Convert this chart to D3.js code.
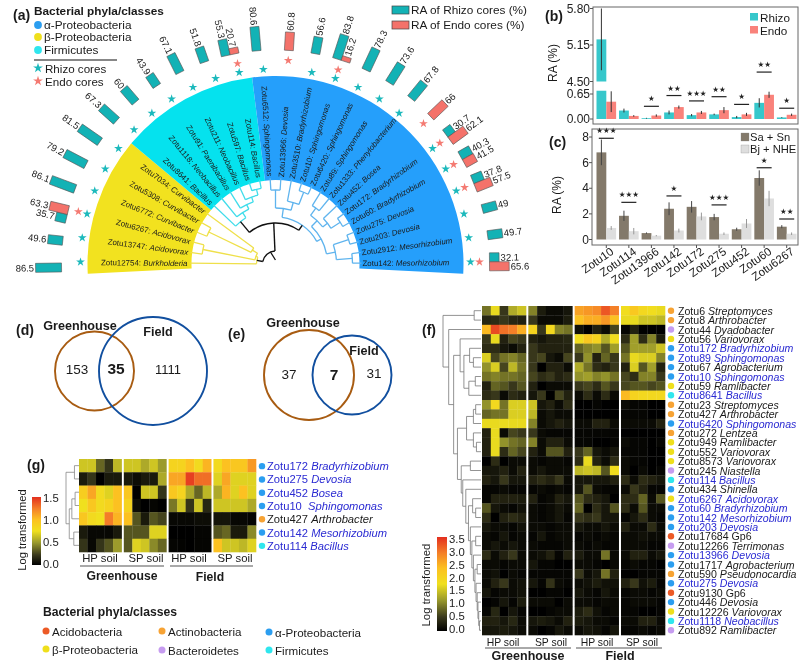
<!DOCTYPE html>
<html><head><meta charset="utf-8">
<script src="https://cdn.jsdelivr.net/npm/d3@7"></script>
<style>
html,body{margin:0;padding:0;background:#fff;}
svg{display:block;filter:blur(0.35px);}
text{font-family:"Liberation Sans",Arial,sans-serif;fill:#1a1a1a;}
</style></head><body><svg id="c" width="800" height="664"></svg>
<script>
// ---------- panel (a) data
const leafIds=["Zotu12754","Zotu13747","Zotu6267","Zotu6772","Zotu5308","Zotu7034","Zotu8641","Zotu1118","Zotu91","Zotu211","Zotu597","Zotu114","Zotu6512","Zotu13966","Zotu3510","Zotu10","Zotu6420","Zotu89","Zotu1333","Zotu452","Zotu172","Zotu60","Zotu275","Zotu203","Zotu2912","Zotu142"];
const leafGenus=["Burkholderia","Acidovorax","Acidovorax","Curvibacter","Curvibacter","Curvibacter","Bacillus","Neobacillus","Paenibacillus","Neobacillus","Bacillus","Bacillus","Sphingomonas","Devosia","Bradyrhizobium","Sphingomonas","Sphingomonas","Sphingomonas","Phenylobacterium","Bosea","Bradyrhizobium","Bradyrhizobium","Devosia","Devosia","Mesorhizobium","Mesorhizobium"];
const rhizoCores=[86.5,49.6,35.7,86.1,79.2,81.5,67.3,60,43.9,67.1,51.8,55.3,80.6,null,56.6,83.8,78.3,73.6,67.8,null,30.7,40.3,37.8,49,49.7,32.1];
const endoCores=[null,null,63.3,null,null,null,null,null,null,null,null,20.7,null,60.8,null,16.2,null,null,null,66,62.1,41.5,57.5,null,null,65.6];
const cladeSpans=[[0,6,"#f2e21f"],[6,12,"#05e2ee"],[12,26,"#259ffb"]];
const treeYellow=[19,0,[21,[74,1,2],[27,[74,3,4],5]]];
const treeCyan=[55,6,[61,7,[66,8,[71,9,[77,10,11]]]]];
const treeBlue=[47,[56,[74,12,13],[64,14,[77,15,16]]],[52,[60,[69,17,18],[66,19,[77,20,21]]],[61,[77,22,23],[77,24,25]]]];
const cladeColors=["#efe04a","#3fdcea","#5fb4ee"];
const rootRadii=[13,41];
// ---------- panels (b),(c) data
const barGroups=["Zotu10","Zotu114","Zotu13966","Zotu142","Zotu172","Zotu275","Zotu452","Zotu60","Zotu6267"];
const bRhizo=[5.25,.22,.02,.17,.10,.12,.05,.42,.04];
const bEndo=[.45,.08,.09,.31,.17,.23,.12,.63,.11];
const bRhizoErr=[.55,.05,.01,.05,.03,.02,.03,.12,.01];
const bEndoErr=[.27,.02,.03,.04,.04,.08,.04,.08,.03];
const bSig=["","","★","★★","★★★","★★","★","★★","★"];
const bSigLevel=[null,null,.33,.61,.47,.58,.38,1.22,.28];
const bTicksLow=[0,.65], bTicksHigh=[4.5,5.15,5.8];
const cSaSn=[6.8,1.85,.5,2.4,2.55,1.75,.8,4.8,1.0];
const cBjNhe=[.9,.65,.3,.7,1.8,.45,1.25,3.2,.45];
const cSaErr=[1.0,.4,.05,.5,.45,.25,.12,.6,.12];
const cBjErr=[.15,.25,.05,.15,.3,.1,.35,.6,.1];
const cSig=["★★★","★★★","","★","","★★★","","★","★★"];
const cSigLevel=[7.9,2.9,null,3.4,null,2.7,null,5.6,1.6];
const cTicks=[0,2,4,6,8];
// ---------- venn data
const vennD=["153","35","1111"], vennE=["37","7","31"];
// ---------- phyla
const phylaNames=["Acidobacteria","Actinobacteria","α-Proteobacteria","β-Proteobacteria","Bacteroidetes","Firmicutes"];
const phylaColors=["#ec5a26","#f7a334","#2b9ef0","#efdf1c","#c69cf0","#2fe6ee"];
// ---------- panel (g)
const gIds=["Zotu172","Zotu275","Zotu452","Zotu10","Zotu427","Zotu142","Zotu114"];
const gGenus=["Bradyrhizobium","Devosia","Bosea","Sphingomonas","Arthrobacter","Mesorhizobium","Bacillus"];
const gPhyla=[2,2,2,2,1,2,5];
const gBlue=[1,1,1,1,0,1,1];
const gValues=[
[.65,.65,.35,.2,.6, .65,.65,.55,.65,.5, .85,.85,1.0,.8,1.05, .8,1.0,.95,.95,1.15],
[.1,.2,0,.1,.1, .1,.05,.1,.1,.55, 1.1,1.1,1.45,1.3,1.3, .7,1.1,.7,.7,.7],
[.9,1.1,.8,.7,1.0, .95,0,.65,.65,.2, .95,.85,.55,.35,.6, .55,1.05,.7,1.0,.7],
[.75,.95,.8,.85,1.0, .85,.05,0,.02,0, .4,.65,.2,.65,.15, .65,.65,.65,.65,.55],
[.95,.8,.75,1.25,1.05, 1.0,.3,.1,.3,.25, .03,.03,.03,.05,.05, .08,.08,.03,.03,.02],
[.1,.03,.03,.03,.1, .3,.3,.3,.7,.7, 0,0,0,.02,.02, .3,.35,.1,.1,.45],
[.2,.03,.2,.3,.5, .3,.7,.65,.45,.35, .02,.01,0,.02,.02, 1.0,.65,.65,.6,.7]];
const gTree=[1,[.35,0,1],[.75,[.55,[.3,2,3],4],[.4,5,6]]];
const gTicks=[0,.5,1,1.5];
// ---------- panel (f)
const fIds=["Zotu6","Zotu8","Zotu44","Zotu56","Zotu172","Zotu89","Zotu67","Zotu10","Zotu59","Zotu8641","Zotu23","Zotu427","Zotu6420","Zotu272","Zotu949","Zotu552","Zotu8573","Zotu245","Zotu114","Zotu434","Zotu6267","Zotu60","Zotu142","Zotu203","Zotu17684","Zotu12266","Zotu13966","Zotu1717","Zotu590","Zotu275","Zotu9130","Zotu446","Zotu12226","Zotu1118","Zotu892"];
const fGenus=["Streptomyces","Arthrobacter","Dyadobacter","Variovorax","Bradyrhizobium","Sphingomonas","Agrobacterium","Sphingomonas","Ramlibacter","Bacillus","Streptomyces","Arthrobacter","Sphingomonas","Lentzea","Ramlibacter","Variovorax","Variovorax","Niastella","Bacillus","Shinella","Acidovorax","Bradyrhizobium","Mesorhizobium","Devosia","Gp6","Terrimonas","Devosia","Agrobacterium","Pseudonocardia","Devosia","Gp6","Devosia","Variovorax","Neobacillus","Ramlibacter"];
const fPhyla=[1,1,4,3,2,2,2,2,3,5,1,1,2,1,3,3,3,4,5,2,3,2,2,2,0,4,2,2,1,2,0,2,3,5,4];
const fBlue=[0,0,0,0,1,1,0,1,0,1,0,0,1,0,0,0,0,0,1,0,1,1,1,1,0,0,1,0,0,1,0,0,0,1,0];
const fValues=[
[.9,1.7,.5,1.3,1.5, 1.0,.25,.1,.1,.2, 2.6,2.7,2.8,3.2,2.9, 1.8,2.2,1.9,1.8,1.7],
[.35,.4,.5,.35,.3, .5,.1,.1,.1,.25, 2.3,2.5,2.5,2.7,2.3, 1.7,1.7,1.5,1.5,1.4],
[2.4,3.3,3.0,2.9,2.5, 2.0,.5,1.9,1,.9, .15,0,.3,.1,.6, .05,.3,0,0,0],
[.5,1.7,.3,.6,.5, .3,.2,.3,.3,.35, 1.8,2.2,2.0,1.3,1.8, .4,1.2,.4,1,.25],
[.4,.4,.2,.1,.3, .5,.3,.3,.3,.3, .8,1.0,1.1,.7,1.2, .7,1.2,1.2,1.2,1.5],
[1.6,.6,.9,1.0,.8, .5,.6,.2,.1,.6, .5,1.1,.3,.8,.5, .9,1.7,1.6,1.6,1.0],
[1.1,1.6,.6,1.4,.9, .5,0,.3,.3,.1, 1.3,.9,.4,.3,.5, .3,1.6,.7,1.2,.3],
[.9,1.0,.9,.9,.8, .6,.4,.5,.3,.4, 1.1,1.2,1.0,1.1,.9, .6,.4,1.0,1.0,.5],
[.3,.8,.7,.5,.7, .3,0,.1,.1,.1, .5,.6,.4,.7,.5, .6,.7,.7,.6,.7],
[.4,.5,.1,.4,.3, .2,.5,0,.6,.3, .1,.4,.1,.4,.1, 2.4,2.0,1.9,1.9,1.9],
[1.1,1.9,.9,1.6,1.6, 1.5,.2,.3,.1,.4, 0,0,.05,0,0, .1,.05,.05,0,0],
[.8,.9,.9,1.6,1.6, 1.4,.1,.2,.1,.1, 0,0,0,0,0, .05,.05,.05,0,0],
[1.7,1.7,1.7,1.7,1.7, 1.0,.1,.2,.3,.2, .1,.1,.3,.3,.1, .1,.1,.1,.1,.3],
[.3,1.7,.1,.6,.5, .5,.1,.05,.05,.05, .05,.05,.05,.05,.05, 0,0,0,0,0],
[.3,1.7,1.1,.9,.8, 1.0,.1,.3,.3,.1, .05,.05,0,0,.05, .1,.05,.05,0,.05],
[.3,1.7,.4,.8,.6, .3,.1,.7,.7,.3, .5,.8,.2,.1,.2, .05,.05,.05,0,0],
[0,.4,0,.1,.1, .1,.05,.1,.1,.05, .4,1.7,.3,.1,.4, .1,.05,.05,0,0],
[.2,.2,.3,.1,.3, .1,.2,.1,.1,.1, 1.4,1.5,1.4,.7,1.8, .1,0,.1,0,.05],
[.3,.2,.5,.2,.2, .3,.4,.3,.5,.1, .2,.2,.2,.2,.3, .4,.1,.4,.3,.2],
[.05,.05,.1,.05,.05, .05,.1,.05,.1,.05, .2,.7,.1,.05,.05, .1,.5,.3,.05,.05],
[.05,.3,.3,.3,.25, .3,.05,.1,.3,.2, .7,.4,.3,.2,0, .4,.4,.8,.1,.7],
[.7,.2,.1,.05,.15, .1,.05,.1,.2,.1, .8,0,.4,.2,.7, .4,.1,.7,.1,.1],
[.4,0,.3,.4,.3, .1,.05,.1,.2,.05, .5,.4,.5,.2,.2, .05,.2,.4,.1,.05],
[.2,.1,.1,.05,.15, .1,.1,.05,.1,.1, .2,.1,.1,.2,.1, .3,.1,.1,.4,.1],
[.1,.05,.2,.05,.1, .05,.2,.05,.1,.1, .05,.1,.05,.1,.05, .1,.1,.15,.1,.1],
[.1,.2,.1,.2,.1, .1,.05,.05,.05,.1, .1,.05,.1,.05,.05, .1,.1,.1,.05,.05],
[.4,.1,.3,.5,.1, .1,.15,.3,.05,.3, .25,.1,.1,.9,.1, .1,.3,.3,.1,.2],
[.1,.1,.05,.1,.1, .2,.05,.05,0,0, .1,.1,.05,0,.1, .05,.1,.05,.05,0],
[.1,.15,0,.1,.05, .05,.05,.05,.05,.05, .5,.1,.2,.9,.3, 0,0,.05,.05,.05],
[.1,.3,.5,.1,.15, .2,.05,.45,.1,.05, .1,.15,.25,.15,.15, .3,.5,.15,.25,.05],
[.2,.05,.1,.1,.15, 0,0,.05,.05,0, .2,.1,.05,.2,.1, .05,.1,.1,.05,.1],
[0,.05,.2,.05,.25, .1,.1,.1,0,.1, .1,.1,.05,.1,.1, .05,.1,.1,.1,.05],
[.05,.35,0,.2,.05, 0,0,.05,.1,.1, .25,.4,.15,.05,.1, .05,.05,0,0,.05],
[.3,.3,.2,.35,.1, .2,.25,.2,.1,.3, .25,.2,.1,.1,.05, .1,.1,.3,.3,.1],
[.2,.2,.25,.2,.1, .1,0,.05,.2,.1, .1,.2,.15,.05,.2, .05,.05,.1,.05,.1]];
const fTree=[1,[.18,0,1],[.85,2,[.72,
  [.55,3,[.45,[.3,4,[.2,5,6]],[.32,[.15,7,8],9]]],
  [.62,[.38,[.2,[.14,10,11],12],[.2,13,[.12,14,15]]],
   [.52,[.28,16,17],[.48,18,[.4,19,[.33,[.22,20,[.14,21,22]],[.28,23,[.24,[.14,24,25],[.2,26,[.16,[.1,27,28],[.13,29,[.1,30,[.08,31,[.06,32,[.04,33,34]]]]]]]]]]]]]]]]];
const fTicks=[0,.5,1,1.5,2,2.5,3,3.5];
const heatGroups=["HP soil","SP soil","HP soil ","SP soil "];
const heatCols=[0,1,2,3,4];
const heatFractions=[0,.15,.33,.5,.67,.83,1];
const heatColors=["#000000","#3b3a1c","#9a9a2c","#f0e01e","#fcc021","#f47f28","#e32f1f"];

// ---------- helpers
const svg=d3.select("#c");
function label(x,y,s,o={}){
  const t=svg.append("text").attr("x",x).attr("y",y).attr("font-size",o.size||10.5).attr("dominant-baseline","central")
   .attr("text-anchor",o.anchor||"start").text(s);
  if(o.bold)t.attr("font-weight","bold");
  if(o.rot!==undefined)t.attr("transform",`rotate(${o.rot},${x},${y})`);
  if(o.fill)t.style("fill",o.fill);
  return t;
}
const starPath=d3.symbol().type(d3.symbolStar);
function star(x,y,fill,size){svg.append("path").attr("d",starPath.size(size||24)()).attr("transform",`translate(${x},${y})`).attr("fill",fill);}
function dot(x,y,fill,r){svg.append("circle").attr("cx",x).attr("cy",y).attr("r",r||3.6).attr("fill",fill);}

// panel letters
[["(a)",13,15],["(b)",545,16],["(c)",549,142],["(d)",16,330],["(e)",228,334],["(f)",422,330],["(g)",27,465]].forEach(d=>label(d[1],d[2],d[0],{bold:true,size:14}));

// ---------- (a)
const cx=275.5,cy=264;
const angle=d3.scaleLinear().domain([-.5,25.5]).range([-3,183]);
const barAngle=i=>angle(i)+(i<=12?-1.5:0);
const gA=svg.append("g").attr("transform",`translate(${cx},${cy})`);
const arcGen=d3.arc().innerRadius(84).outerRadius(188);
const rad=d=>d*Math.PI/180;
cladeSpans.forEach(s=>gA.append("path").attr("fill",s[2]).attr("d",arcGen({startAngle:rad(angle(s[0]-.5)-90),endAngle:rad(angle(s[1]-.5)-90)})));
// polar tree
const pt=(a,r)=>[-r*Math.cos(rad(a)),-r*Math.sin(rad(a))];
function polarTree(n,col,outR){
  if(typeof n==="number")return {a:angle(n),r:outR};
  const kids=n.slice(1).map(k=>polarTree(k,col,outR));
  const as=kids.map(k=>k.a);
  const r=n[0];
  const a0=d3.min(as),a1=d3.max(as);
  gA.append("path").attr("fill","none").attr("stroke",col).attr("stroke-width",1.3)
   .attr("d",d3.arc().innerRadius(r).outerRadius(r)({startAngle:rad(a0-90),endAngle:rad(a1-90)}));
  kids.forEach(k=>{const p=pt(k.a,r),q=pt(k.a,k.r);
    gA.append("line").attr("x1",p[0]).attr("y1",p[1]).attr("x2",q[0]).attr("y2",q[1]).attr("stroke",col).attr("stroke-width",1.3);});
  return {a:(a0+a1)/2,r};
}
const cY=polarTree(treeYellow,cladeColors[0],86);
const cC=polarTree(treeCyan,cladeColors[1],86);
const cB=polarTree(treeBlue,cladeColors[2],86);
function blackStems(kids,r){
  const as=kids.map(k=>k.a),a0=d3.min(as),a1=d3.max(as);
  gA.append("path").attr("fill","none").attr("stroke","#111").attr("stroke-width",1.4)
   .attr("d",d3.arc().innerRadius(r).outerRadius(r)({startAngle:rad(a0-90),endAngle:rad(a1-90)}));
  kids.forEach(k=>{const p=pt(k.a,r),q=pt(k.a,k.r);
    gA.append("line").attr("x1",p[0]).attr("y1",p[1]).attr("x2",q[0]).attr("y2",q[1]).attr("stroke","#111").attr("stroke-width",1.4);});
  return {a:(a0+a1)/2,r};
}
const upper=blackStems([cC,cB],rootRadii[1]);
const rootN=blackStems([cY,upper],rootRadii[0]);
(function(){const p=pt(rootN.a+18,rootRadii[0]),q=pt(rootN.a+40,4);gA.append("line").attr("x1",p[0]).attr("y1",p[1]).attr("x2",q[0]).attr("y2",q[1]).attr("stroke","#111").attr("stroke-width",1.3);})();

// leaf labels
leafIds.forEach((id,i)=>{
  const a=angle(i),left=i<=12;
  const t=gA.append("text").attr("font-size",7.9).attr("dominant-baseline","central")
    .attr("text-anchor",left?"end":"start")
    .attr("transform",left?`rotate(${a}) translate(-88,0)`:`rotate(${a-180}) translate(87,0)`);
  t.append("tspan").text(id+": ");
  t.append("tspan").attr("font-style","italic").text(leafGenus[i]);
});
// core bars
const barR=d3.scaleLinear().domain([0,100]).range([214,244]);
const cRhizo="#13b2b5",cEndo="#f4726a";
function coreBar(i,v,fill,off){
  const a=barAngle(i);
  gA.append("rect").attr("transform",`rotate(${180+a})`).attr("x",barR(0)).attr("width",barR(v)-barR(0))
   .attr("y",off-4.5).attr("height",9).attr("fill",fill).attr("stroke","#555").attr("stroke-width",.6);
  const left=i<=12;
  gA.append("text").attr("font-size",9.5).attr("dominant-baseline","central")
   .attr("text-anchor",left?"end":"start")
   .attr("transform",left?`rotate(${a}) translate(${-(barR(v)+1.5)},${-off})`:`rotate(${a-180}) translate(${barR(v)+1.5},${off})`)
   .text(v);
}
leafIds.forEach((id,i)=>{
  const r=rhizoCores[i],e=endoCores[i],both=r!=null&&e!=null;
  if(r!=null){coreBar(i,r,cRhizo,both?-4.5:0);const p=pt(angle(i),195);star(cx+p[0],cy+p[1],"#1cb9bc");}
  if(e!=null){coreBar(i,e,cEndo,both?4.5:0);const p=pt(angle(i),204);star(cx+p[0],cy+p[1],"#f47a72");}
});
// legends (a)
label(34,11,"Bacterial phyla/classes",{bold:true,size:11.8});
[["α-Proteobacteria",2,25],["β-Proteobacteria",3,37],["Firmicutes",5,50]].forEach(d=>{dot(38,d[2],phylaColors[d[1]],3.9);label(44,d[2],d[0],{size:11.8});});
svg.append("line").attr("x1",34).attr("x2",117).attr("y1",60).attr("y2",60).attr("stroke","#111").attr("stroke-width",1.2);
star(38,68,"#1cb9bc",30);label(45,68,"Rhizo cores",{size:11.6});
star(38,81,"#f47a72",30);label(45,81,"Endo cores",{size:11.6});
[["RA of Rhizo cores (%)",6,cRhizo],["RA of Endo cores (%)",21,cEndo]].forEach(d=>{
  svg.append("rect").attr("x",392).attr("y",d[1]).attr("width",17).attr("height",8).attr("fill",d[2]).attr("stroke","#444").attr("stroke-width",.7);
  label(411,d[1]+4,d[0],{size:11.8});
});

// ---------- (b)
const xBand=d3.scaleBand().domain(barGroups).range([596.5,796.5]).paddingInner(.13);
const xSub=d3.scaleBand().domain([0,1]).range([0,xBand.bandwidth()]);
const yLow=d3.scaleLinear().domain([0,.65]).range([119,94]);
const yHigh=d3.scaleLinear().domain([4.5,5.8]).range([81.5,8.5]);
const breakTop=.735;
svg.append("rect").attr("x",593).attr("y",7).attr("width",205).attr("height",117).attr("fill","none").attr("stroke","#666").attr("stroke-width",1);
function drawB(vals,errs,sub,fill){
  vals.forEach((v,i)=>{
    const x=xBand(barGroups[i])+xSub(sub),w=xSub.bandwidth();
    const xm=x+w/2;
    if(v>1){
      svg.append("rect").attr("x",x).attr("width",w).attr("y",yLow(breakTop)).attr("height",yLow(0)-yLow(breakTop)).attr("fill",fill);
      svg.append("rect").attr("x",x).attr("width",w).attr("y",yHigh(v)).attr("height",yHigh(4.5)-yHigh(v)).attr("fill",fill);
      svg.append("line").attr("x1",xm).attr("x2",xm).attr("y1",yHigh(v-errs[i])).attr("y2",yHigh(v+errs[i])).attr("stroke","#333").attr("stroke-width",1);
    } else {
      svg.append("rect").attr("x",x).attr("width",w).attr("y",yLow(v)).attr("height",yLow(0)-yLow(v)).attr("fill",fill);
      svg.append("line").attr("x1",xm).attr("x2",xm).attr("y1",yLow(Math.max(0,v-errs[i]))).attr("y2",yLow(v+errs[i])).attr("stroke","#333").attr("stroke-width",1);
    }
  });
}
const tealB="#36c7cb",pinkB="#f9827b";
drawB(bRhizo,bRhizoErr,0,tealB);drawB(bEndo,bEndoErr,1,pinkB);
function yTick(y,s,x){svg.append("line").attr("x1",x-3).attr("x2",x).attr("y1",y).attr("y2",y).attr("stroke","#555");label(x-3,y,s,{anchor:"end",size:12,fill:"#222"});}
bTicksHigh.forEach(t=>yTick(yHigh(t),t.toFixed(2),593));
bTicksLow.forEach(t=>yTick(yLow(t),t.toFixed(2),593));
label(553,63,"RA (%)",{rot:-90,anchor:"middle",size:12});
function sigMark(xc,y,w,s){
  svg.append("line").attr("x1",xc-w/2).attr("x2",xc+w/2).attr("y1",y).attr("y2",y).attr("stroke","#222").attr("stroke-width",1.2);
  const t=label(xc,y-7.5,s,{anchor:"middle",size:7.5,fill:"#222"});t.style("font-family","DejaVu Sans");
}
barGroups.forEach((g,i)=>{if(bSig[i]){const bx=xBand(g)+xBand.bandwidth()/2;sigMark(bx,yLow(bSigLevel[i]),15,bSig[i]);}});
[["Rhizo",13,tealB],["Endo",26,pinkB]].forEach(d=>{
  svg.append("rect").attr("x",750).attr("y",d[1]).attr("width",8).attr("height",7.5).attr("fill",d[2]);
  label(760,d[1]+4,d[0],{size:11.7});
});

// ---------- (c)
const yC=d3.scaleLinear().domain([0,8]).range([239.5,137]);
svg.append("rect").attr("x",592).attr("y",129).attr("width",206).attr("height",116).attr("fill","none").attr("stroke","#666").attr("stroke-width",1);
function drawC(vals,errs,sub,fill){
  vals.forEach((v,i)=>{
    const x=xBand(barGroups[i])+xSub(sub),w=xSub.bandwidth(),xm=x+w/2;
    svg.append("rect").attr("x",x).attr("width",w).attr("y",yC(v)).attr("height",yC(0)-yC(v)).attr("fill",fill);
    svg.append("line").attr("x1",xm).attr("x2",xm).attr("y1",yC(v-errs[i])).attr("y2",yC(v+errs[i])).attr("stroke",sub?"#999":"#444").attr("stroke-width",1);
  });
}
const cDark="#83796a",cLight="#dedede";
drawC(cSaSn,cSaErr,0,cDark);drawC(cBjNhe,cBjErr,1,cLight);
cTicks.forEach(t=>yTick(yC(t),String(t),592));
label(557,195,"RA (%)",{rot:-90,anchor:"middle",size:12});
barGroups.forEach((g,i)=>{
  const bx=xBand(g)+xBand.bandwidth()/2;
  if(cSig[i])sigMark(bx,yC(cSigLevel[i]),15,cSig[i]);
  svg.append("line").attr("x1",bx).attr("x2",bx).attr("y1",245).attr("y2",248).attr("stroke","#555");
  label(bx+6,250,g,{anchor:"end",size:11.5,rot:-35});
});
[["Sa + Sn",133,cDark],["Bj + NHE",145,cLight]].forEach(d=>{
  svg.append("rect").attr("x",741).attr("y",d[1]).attr("width",8).attr("height",8).attr("fill",d[2]).attr("stroke","#888").attr("stroke-width",.3);
  label(750,d[1]+4,d[0],{size:11.2});
});

// ---------- venns
const brown="#a85c12",navy="#114f9f";
[[94.5,371,39.5,brown],[153,371,54,navy],[309,375,45,brown],[352,375,39.5,navy]].forEach(c=>
  svg.append("circle").attr("cx",c[0]).attr("cy",c[1]).attr("r",c[2]).attr("fill","none").attr("stroke",c[3]).attr("stroke-width",1.9));
label(80,326,"Greenhouse",{anchor:"middle",size:12.6,bold:true});
label(158,332,"Field",{anchor:"middle",size:12.6,bold:true});
label(77,369,vennD[0],{anchor:"middle",size:13.5});
label(116,368,vennD[1],{anchor:"middle",size:15.5,bold:true});
label(168,369,vennD[2],{anchor:"middle",size:13});
label(303,323,"Greenhouse",{anchor:"middle",size:12.6,bold:true});
label(364,351,"Field",{anchor:"middle",size:12.6,bold:true});
label(289,374,vennE[0],{anchor:"middle",size:13.5});
label(334,374,vennE[1],{anchor:"middle",size:15.5,bold:true});
label(374,373,vennE[2],{anchor:"middle",size:13.5});

// ---------- heat maps
const heatColor=max=>d3.scaleLinear().domain(heatFractions.map(f=>f*max)).range(heatColors).clamp(true);
function heat(vals,x0,x1,yBand,scale){
  const gx=d3.scaleBand().domain(heatGroups).range([x0,x1]).paddingInner(.05);
  const cx2=d3.scaleBand().domain(heatCols).range([0,gx.bandwidth()]);
  vals.forEach((row,r)=>row.forEach((v,c)=>{
    const g=heatGroups[Math.floor(c/5)];
    svg.append("rect").attr("x",gx(g)+cx2(c%5)).attr("y",yBand(r)).attr("width",cx2.bandwidth()+.3).attr("height",yBand.bandwidth()+.3).attr("fill",scale(v));
  }));
}
function cartTree(n,xh,yb,color){
  if(typeof n==="number")return {y:yb(n)+yb.bandwidth()/2,x:xh(0)};
  const kids=n.slice(1).map(k=>cartTree(k,xh,yb,color));
  const ys=kids.map(k=>k.y),x=xh(n[0]);
  svg.append("line").attr("x1",x).attr("x2",x).attr("y1",d3.min(ys)).attr("y2",d3.max(ys)).attr("stroke",color).attr("stroke-width",.8);
  kids.forEach(k=>svg.append("line").attr("x1",x).attr("x2",k.x).attr("y1",k.y).attr("y2",k.y).attr("stroke",color).attr("stroke-width",.8));
  return {y:(d3.min(ys)+d3.max(ys))/2,x};
}
function colorBar(id,x,w,yTop,yBot,ticks,max,labelRange){
  const grad=svg.append("defs").append("linearGradient").attr("id",id).attr("x1",0).attr("x2",0).attr("y1",1).attr("y2",0);
  heatFractions.forEach((f,i)=>grad.append("stop").attr("offset",f).attr("stop-color",heatColors[i]));
  svg.append("rect").attr("x",x).attr("y",yTop).attr("width",w).attr("height",yBot-yTop).attr("fill",`url(#${id})`);
  const s=d3.scaleLinear().domain([0,max]).range(labelRange);
  ticks.forEach(t=>label(x+w+2,s(t),t.toFixed(1),{size:11.3,fill:"#222"}));
}
function rowLabels(ids,genus,phy,blue,yOf,dx,tx,size){
  ids.forEach((id,i)=>{
    const y=yOf(i);dot(dx,y,phylaColors[phy[i]],3.2);
    const col=blue[i]?"#2a2ad2":"#1a1a1a";
    const t=svg.append("text").attr("x",tx).attr("y",y).attr("font-size",size).attr("dominant-baseline","central").attr("xml:space","preserve");
    t.append("tspan").text(id+(id==="Zotu10"&&ids.length<10?"  ":" ")).style("fill",col);
    const g=t.append("tspan").text(genus[i]).style("fill",col);
    if(genus[i]!=="Gp6")g.attr("font-style","italic");
  });
}
// (g)
const gY=d3.scaleBand().domain(d3.range(7)).range([459,552]);
heat(gValues,79,256,gY,heatColor(1.5));
cartTree(gTree,d3.scaleLinear().domain([0,1]).range([79,66]),gY,"#888");
rowLabels(gIds,gGenus,gPhyla,gBlue,i=>gY(i)+gY.bandwidth()/2+.5,262,267,11.2);
colorBar("cbg",32,9,497,565,gTicks,1.5,[564,498]);
label(22,530,"Log transformed",{rot:-90,anchor:"middle",size:11.2});
[["HP soil",100],["SP soil",146],["HP soil",189],["SP soil",235]].forEach(d=>label(d[1],558,d[0],{anchor:"middle",size:11.3}));
[[80,164],[170,253]].forEach(d=>svg.append("line").attr("x1",d[0]).attr("x2",d[1]).attr("y1",566).attr("y2",566).attr("stroke","#555").attr("stroke-width",1.2));
label(122,576,"Greenhouse",{anchor:"middle",bold:true,size:12.2});
label(210,577,"Field",{anchor:"middle",bold:true,size:12.2});
// (f)
const fY=d3.scaleBand().domain(d3.range(35)).range([306,635]);
heat(fValues,482,665,fY,heatColor(3.5));
cartTree(fTree,d3.scaleLinear().domain([0,1]).range([481,443]),fY,"#777");
rowLabels(fIds,fGenus,fPhyla,fBlue,i=>fY(i)+fY.bandwidth()/2,671,678,10.6);
colorBar("cbf",437,10,537,631,fTicks,3.5,[629,539]);
label(426,585,"Log transformed",{rot:-90,anchor:"middle",size:11.4});
[["HP soil",503],["SP soil",551],["HP soil",597],["SP soil",642]].forEach(d=>label(d[1],642,d[0],{anchor:"middle",size:10.4}));
[[485,571],[576,662]].forEach(d=>svg.append("line").attr("x1",d[0]).attr("x2",d[1]).attr("y1",648).attr("y2",648).attr("stroke","#555").attr("stroke-width",1));
label(528,656,"Greenhouse",{anchor:"middle",bold:true,size:12.5});
label(620,656,"Field",{anchor:"middle",bold:true,size:12.5});

// bottom legend
label(43,612,"Bacterial phyla/classes",{bold:true,size:12.2});
[[46,631,0],[162,631,1],[269,632,2],[46,649,3],[162,650,4],[269,650,5]].forEach(d=>{
  dot(d[0],d[1],phylaColors[d[2]],3.5);
  label(d[0]+6,d[1],phylaNames[d[2]],{size:11.6});
});
</script></body></html>
